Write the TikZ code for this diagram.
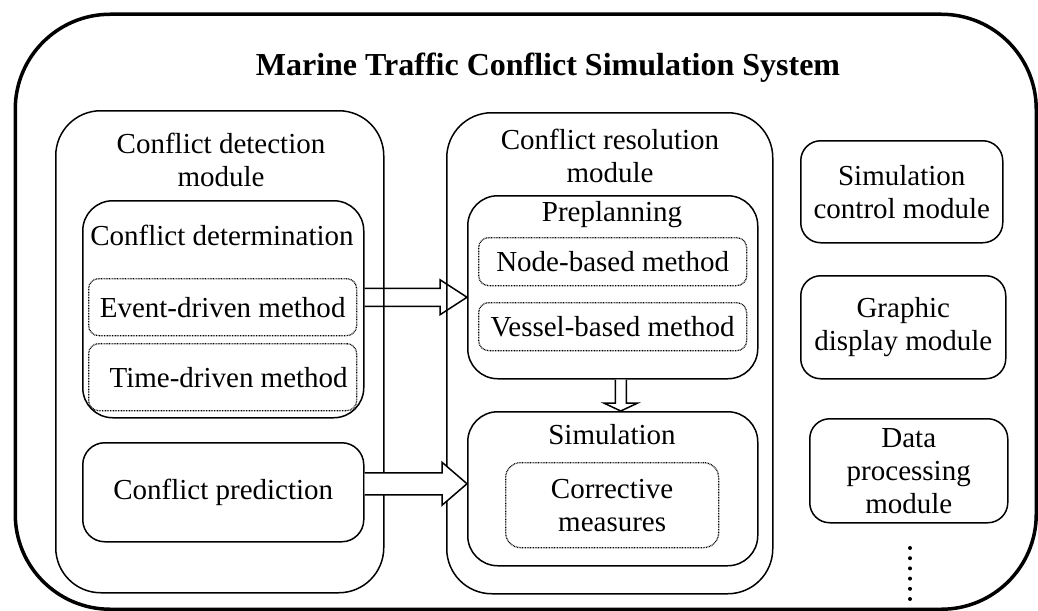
\documentclass[tikz,border=0pt]{standalone}
\usepackage{fontspec}
\setmainfont{Liberation Serif}
\usetikzlibrary{calc}

\tikzset{
  box/.style={draw, line width=1.5pt, anchor=north west, inner sep=0pt, align=center,
              font=\fontsize{29}{33}\selectfont},
  dotbox/.style={box, line width=1.3pt, dash pattern=on 0.8pt off 0.8pt, rounded corners=10pt},
  lbl/.style={inner sep=0pt, align=center, font=\fontsize{29}{33}\selectfont},
  blk/.style={draw, line width=1.5pt, line join=miter},
}

% horizontal block arrow: #2 start, #3 tip, #4 half shaft, #5 half head, #6 head length
\newcommand{\harrow}[6][]{%
  \draw[blk,#1] ($(#2)+(0,-#4)$) -- ($(#3)+(-#6,-#4)$) -- ($(#3)+(-#6,-#5)$) -- (#3)
    -- ($(#3)+(-#6,#5)$) -- ($(#3)+(-#6,#4)$) -- ($(#2)+(0,#4)$);}

\begin{document}
\begin{tikzpicture}[x=1pt,y=-1pt]
\useasboundingbox (0,0) rectangle (1038,610);

% system frame and title
\node[draw, line width=3.5pt, rounded corners=95pt, minimum width=1021pt,
      minimum height=595pt, anchor=north west] (sys) at (13.5,12.5) {};
\node[inner sep=0pt, font=\fontsize{32}{38}\selectfont\bfseries] (title) at (548,68)
  {Marine Traffic Conflict Simulation System};

% conflict detection module
\node[box, rounded corners=45pt, minimum width=328pt, minimum height=482pt] (detect) at (55,110) {};
\node[lbl] (detectlbl) at (221,160) {Conflict detection\\module};
\node[box, rounded corners=30pt, minimum width=281pt, minimum height=217pt] (det) at (82,200) {};
\node[lbl] (detlbl) at (222,235) {Conflict determination};
\node[dotbox, minimum width=268pt, minimum height=57pt] (ev) at (88,278) {Event-driven method};
\node[dotbox, minimum width=268pt, minimum height=67pt] (td) at (88,343) {\hspace*{12pt}Time-driven method};
\node[box, rounded corners=22pt, minimum width=281pt, minimum height=99pt] (pred) at (82,442) {Conflict prediction};

% conflict resolution module
\node[box, rounded corners=45pt, minimum width=326pt, minimum height=481pt] (res) at (446,112) {};
\node[lbl] (reslbl) at (610,156) {Conflict resolution\\module};
\node[box, rounded corners=30pt, minimum width=290pt, minimum height=183pt] (pre) at (467,195) {};
\node[lbl] (prelbl) at (612,215) {Preplanning};
\node[dotbox, minimum width=268pt, minimum height=48pt] (nb) at (478,237) {Node-based method};
\node[dotbox, minimum width=268pt, minimum height=48pt] (vb) at (478,302) {Vessel-based method};
\node[box, rounded corners=30pt, minimum width=290pt, minimum height=154pt] (sim) at (467,411) {};
\node[lbl] (simlbl) at (612,435) {Simulation};
\node[dotbox, rounded corners=15pt, minimum width=213pt, minimum height=85pt] (cm) at (505,462) {Corrective\\measures};

% other modules
\node[box, rounded corners=20pt, minimum width=202pt, minimum height=102pt] (scm) at (800,140) {Simulation\\control module};
\node[box, rounded corners=20pt, minimum width=205pt, minimum height=103pt] (gdm) at (800,275) {Graphic\\display module};
\node[box, rounded corners=20pt, minimum width=198pt, minimum height=104pt] (dpm) at (809,418) {Data\\processing\\module};
\foreach \k in {0,...,5} \fill (910,548+10.2*\k) circle (2pt);

% block arrows
\coordinate (a1e) at ([yshift=-10pt]pre.west);
\coordinate (a1s) at (det.east |- a1e);
\harrow{a1s}{a1e}{9}{17.5}{27}
\coordinate (a2e) at ([yshift=5pt]sim.west);
\coordinate (a2s) at (pred.east |- a2e);
\harrow[fill=white]{a2s}{a2e}{11}{21.5}{25}
\coordinate (a3s) at ([xshift=8pt]pre.south);
\coordinate (a3e) at ([xshift=8pt]sim.north);
\draw[blk, fill=white] ($(a3s)+(-5.5,0)$) -- ($(a3e)+(-5.5,-8)$) -- ($(a3e)+(-17,-8)$) -- (a3e)
  -- ($(a3e)+(17,-8)$) -- ($(a3e)+(5.5,-8)$) -- ($(a3s)+(5.5,0)$);
\end{tikzpicture}
\end{document}
